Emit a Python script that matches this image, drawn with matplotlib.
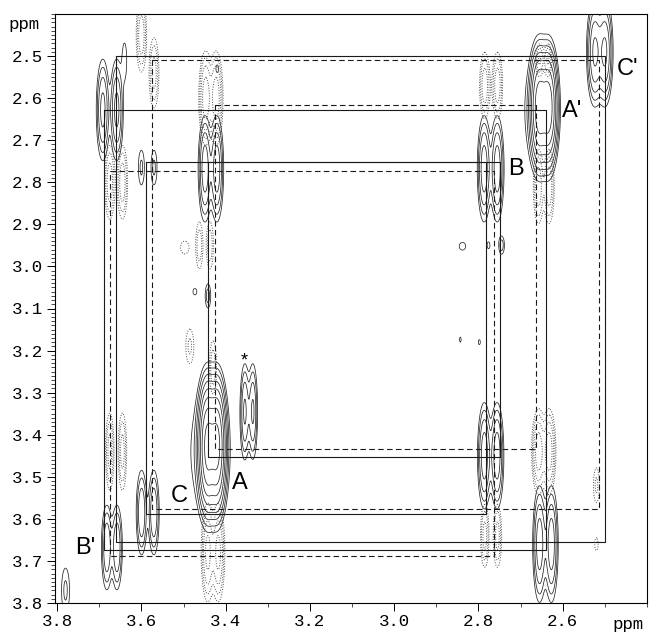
import numpy as np
import matplotlib
matplotlib.use("Agg")
import matplotlib.pyplot as plt
from matplotlib.ticker import MultipleLocator

# peak table: x shift, y shift, intensity, x width, y width, doublet splitting
pos_x = [2.512, 2.645, 2.771, 3.435, 3.675, 3.432, 3.345, 3.585, 3.670, 2.771, 2.641,
         3.600, 3.570, 3.640, 3.442, 3.473, 2.838, 2.776, 2.745, 2.843, 2.798, 3.780, 3.420]
pos_y = [2.490, 2.622, 2.768, 2.768, 2.628, 3.428, 3.345, 3.585, 3.668, 3.450, 3.660,
         2.765, 2.765, 2.510, 3.070, 3.060, 2.952, 2.950, 2.950, 3.174, 3.180, 3.770, 2.530]
pos_amp = [1.6, 6.0, 1.2, 1.2, 1.0, 9.0, 0.9, 0.8, 0.8, 1.2, 1.2,
           0.30, 0.30, 0.25, 0.35, 0.20, 0.20, 0.20, 0.35, 0.18, 0.18, 0.30, 0.20]
pos_sx = [0.009, 0.010, 0.008, 0.008, 0.008, 0.010, 0.006, 0.007, 0.007, 0.008, 0.008,
          0.006, 0.006, 0.005, 0.005, 0.006, 0.010, 0.004, 0.005, 0.003, 0.004, 0.008, 0.004]
pos_sy = [0.060, 0.062, 0.062, 0.062, 0.062, 0.068, 0.060, 0.055, 0.055, 0.062, 0.068,
          0.035, 0.035, 0.040, 0.022, 0.010, 0.012, 0.010, 0.016, 0.010, 0.010, 0.045, 0.012]
pos_split = [0.024, 0.022, 0.031, 0.028, 0.033, 0.022, 0.019, 0.029, 0.024, 0.030, 0.028,
             0, 0, 0, 0, 0, 0, 0, 0, 0, 0, 0, 0]

# broad shoulders under the two strongest diagonal peaks
broad_x = [2.655, 3.440]
broad_y = [2.630, 3.440]
broad_amp = [0.35, 0.40]
broad_sx = [0.025, 0.030]
broad_sy = [0.080, 0.090]

neg_x = [3.600, 3.570, 3.435, 2.770, 2.645, 2.645, 3.660, 3.450, 3.497, 3.485, 3.430,
         3.660, 3.430, 2.645, 2.770, 2.520, 2.520]
neg_y = [2.450, 2.540, 2.600, 2.570, 2.510, 2.810, 2.800, 2.950, 2.955, 3.190, 3.240,
         3.440, 3.680, 3.440, 3.640, 3.660, 3.520]
neg_amp = [-0.7, -0.6, -1.2, -0.7, -0.5, -0.7, -0.7, -0.4, -0.25, -0.3, -0.4,
           -0.6, -1.0, -1.2, -0.6, -0.25, -0.3]
neg_sx = [0.007, 0.007, 0.008, 0.007, 0.006, 0.007, 0.007, 0.006, 0.010, 0.008, 0.006,
          0.006, 0.008, 0.008, 0.006, 0.004, 0.006]
neg_sy = [0.050, 0.050, 0.055, 0.045, 0.025, 0.050, 0.050, 0.040, 0.015, 0.035, 0.045,
          0.055, 0.060, 0.050, 0.045, 0.015, 0.035]
neg_split = [0, 0, 0.025, 0.030, 0.020, 0.025, 0.030, 0.025, 0, 0, 0,
             0.030, 0.025, 0.025, 0.030, 0, 0]

# connectivity boxes (x1, x2, y1, y2)
solid_x1 = [3.660, 3.589, 3.442, 3.689]
solid_x2 = [2.500, 2.781, 2.748, 2.639]
solid_y1 = [2.500, 2.752, 2.752, 2.629]
solid_y2 = [3.655, 3.588, 3.452, 3.674]
dash_x1 = [3.575, 3.426, 3.674]
dash_x2 = [2.513, 2.663, 2.764]
dash_y1 = [2.510, 2.617, 2.774]
dash_y2 = [3.576, 3.433, 3.688]

labels = ["A", "A'", "B", "B'", "C", "C'", "*"]
label_x = [3.366, 2.577, 2.712, 3.734, 3.509, 2.447, 3.355]
label_y = [3.514, 2.630, 2.769, 3.669, 3.545, 2.531, 3.225]


def spectrum(X, Y, xs, ys, amps, sxs, sys_, splits):
    Z = np.zeros_like(X)
    for x0, y0, a, sx, sy, sp in zip(xs, ys, amps, sxs, sys_, splits):
        lobes = [x0] if sp == 0 else [x0 - sp / 2, x0 + sp / 2]
        for xl in lobes:
            Z += a * np.exp(-((X - xl) ** 2 / (2 * sx ** 2) + (Y - y0) ** 2 / (2 * sy ** 2)))
    return Z


xg = np.linspace(2.38, 3.83, 900)
yg = np.linspace(2.38, 3.83, 900)
X, Y = np.meshgrid(xg, yg)
Zp = spectrum(X, Y, pos_x, pos_y, pos_amp, pos_sx, pos_sy, pos_split)
Zp += spectrum(X, Y, broad_x, broad_y, broad_amp, broad_sx, broad_sy, [0, 0])
Zn = spectrum(X, Y, neg_x, neg_y, neg_amp, neg_sx, neg_sy, neg_split)

levels = 0.15 * 1.75 ** np.arange(9)

fig = plt.figure(figsize=(6.49, 6.35), dpi=100)
ax = fig.add_axes([55 / 649, 1 - 603 / 635, 592 / 649, 589 / 635])

ax.contour(X, Y, Zp, levels=levels, colors="0.15", linewidths=0.55, linestyles="solid")
ax.contour(X, Y, -Zn, levels=levels[:5], colors="0.3", linewidths=0.7, linestyles=":")

for x1, x2, y1, y2 in zip(solid_x1, solid_x2, solid_y1, solid_y2):
    ax.plot([x1, x2, x2, x1, x1], [y1, y1, y2, y2, y1], color="0.1", lw=0.8)
for x1, x2, y1, y2 in zip(dash_x1, dash_x2, dash_y1, dash_y2):
    ax.plot([x1, x2, x2, x1, x1], [y1, y1, y2, y2, y1], color="0.1", lw=0.8,
            dashes=(5, 3))

for t, x, y in zip(labels, label_x, label_y):
    ax.text(x, y, t, fontsize=17 if t != "*" else 13, family="Liberation Sans",
            ha="center", va="center")

ax.set_xlim(3.805, 2.40)
ax.set_ylim(3.80, 2.40)
ax.xaxis.set_minor_locator(MultipleLocator(0.1))
ax.yaxis.set_minor_locator(MultipleLocator(0.01))
xt = np.arange(2.6, 3.81, 0.2)
yt = np.arange(2.5, 3.81, 0.1)
ax.set_xticks(xt)
ax.set_yticks(yt)
ax.set_xticklabels([f"{v:.1f}" for v in xt])
ax.set_yticklabels([f"{v:.1f}" for v in yt])
ax.tick_params(axis="both", which="major", length=6, width=0.7, labelsize=12.5)
ax.tick_params(axis="both", which="minor", length=3, width=0.5)
ax.tick_params(axis="x", pad=2)
ax.tick_params(axis="y", pad=3)
for lab in ax.get_xticklabels() + ax.get_yticklabels():
    lab.set_family("Liberation Mono")
for s in ax.spines.values():
    s.set_linewidth(0.8)

fig.text(8 / 649, 1 - 25 / 635, "ppm", fontsize=12.5, family="Liberation Mono",
         va="center")
fig.text(612 / 649, 1 - 624 / 635, "ppm", fontsize=12.5, family="Liberation Mono",
         va="center")

fig.savefig("out.png", dpi=100)
